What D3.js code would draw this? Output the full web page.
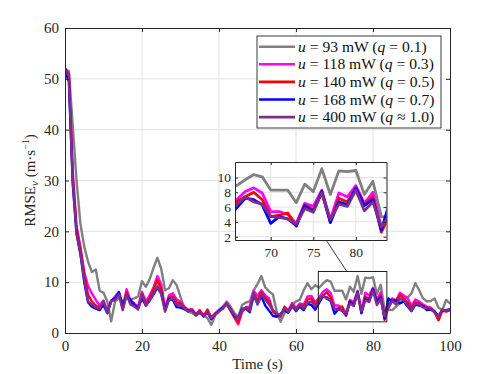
<!DOCTYPE html>
<html>
<head>
<meta charset="utf-8">
<script src="https://cdn.jsdelivr.net/npm/d3@7"></script>
<style>
  body { margin: 0; background: #fff; }
  svg { font-family: "Liberation Serif", "Times New Roman", serif; }
</style>
</head>
<body>
<div id="chart"></div>
<script>
// time axis (s)
const time = d3.range(0, 101);

// RMSE series, one value per second
const rmseQ01 = [52, 51.5, 41, 30, 21.5, 17, 14, 12, 12.5, 8.3, 7.9, 6.2, 2.3, 6.2, 6.8, 6.3, 7.0, 6.6, 6.8, 7.2,
  10.2, 9.1, 10.6, 12.8, 14.8, 12.6, 8.4, 8.8, 10.4, 9.4, 7.1, 4.8, 4.2, 3.9, 3.5, 4.0, 3.6, 2.9, 1.6, 3.5,
  4.6, 5.2, 6.2, 5.2, 3.9, 3.2, 5.5, 6.0, 6.2, 8.4, 9.6, 11.2, 9.0, 8.2, 7.6, 4.2, 2.2, 3.9, 4.5, 5.5,
  6.2, 6.5, 8.4, 9.8, 8.6, 9.4, 8.9, 9.7, 10.4, 10.1, 8.3, 8.3, 8.3, 6.6, 9.1, 8.1, 11.2, 7.7, 10.9, 10.8,
  10.95, 7.7, 9.5, 4.7, 4.6, 4.5, 5.2, 6.0, 6.8, 7.0, 7.8, 9.8, 8.4, 6.8, 6.2, 6.3, 6.8, 5.0, 4.5, 6.5, 5.8];
const rmseQ03 = [52, 51, 32, 21, 17, 12, 9.2, 7.8, 6.5, 5.4, 6.4, 4.3, 6.3, 7.2, 8.1, 4.9, 8.6, 6.4, 5.8, 5.2,
  8.1, 6.2, 7.4, 9.0, 11.2, 9.6, 4.8, 7.4, 7.8, 6.6, 6.2, 5.2, 4.6, 4.7, 3.7, 4.5, 3.4, 4.6, 3.0, 3.9,
  4.5, 4.9, 5.9, 4.4, 3.0, 1.7, 4.2, 5.1, 5.2, 8.3, 7.3, 8.4, 7.4, 6.8, 4.4, 3.7, 3.2, 5.2, 4.4, 5.9,
  4.9, 5.8, 5.6, 7.2, 7.3, 6.0, 7.0, 8.1, 8.6, 7.9, 5.4, 5.4, 5.0, 3.8, 6.5, 6.1, 8.3, 4.3, 7.9, 7.4,
  8.9, 6.5, 8.0, 3.2, 5.4, 6.8, 6.4, 7.9, 7.4, 6.9, 5.3, 6.6, 6.2, 5.6, 5.2, 5.0, 4.3, 2.6, 4.6, 4.3, 4.6];
const rmseQ05 = [52, 51, 31, 20.5, 16.5, 11.5, 7.5, 6.2, 5.4, 4.9, 6.0, 4.2, 6.2, 6.7, 7.8, 4.7, 8.0, 6.0, 5.4, 4.9,
  7.8, 5.8, 6.8, 8.6, 10.4, 8.6, 4.6, 7.0, 7.2, 6.0, 5.8, 5.0, 4.4, 4.6, 3.6, 4.4, 3.3, 4.5, 3.0, 3.8,
  4.4, 4.8, 5.8, 4.4, 3.2, 2.1, 4.3, 5.0, 4.8, 7.8, 6.4, 8.0, 7.0, 6.2, 4.2, 3.6, 3.4, 5.0, 4.3, 5.7,
  4.7, 5.6, 5.2, 6.6, 6.8, 5.6, 6.7, 7.4, 8.0, 7.0, 4.7, 4.9, 5.2, 3.4, 6.3, 5.6, 8.0, 4.0, 7.2, 6.7,
  8.6, 6.3, 7.4, 2.6, 5.0, 6.6, 6.2, 7.5, 6.8, 6.0, 4.8, 6.1, 5.8, 5.3, 5.0, 4.9, 4.1, 2.5, 4.4, 4.2, 4.5];
const rmseQ07 = [51.5, 49.5, 29.5, 19.5, 15.5, 10, 6.0, 5.2, 4.8, 4.5, 5.5, 3.9, 6.4, 6.8, 8.0, 5.4, 7.4, 6.5, 5.6, 4.9,
  6.8, 5.4, 6.4, 7.6, 8.9, 7.8, 4.5, 6.7, 6.5, 5.1, 5.0, 4.7, 4.3, 4.5, 3.5, 4.0, 3.3, 4.0, 2.7, 3.6,
  4.3, 5.0, 5.6, 4.7, 3.3, 3.0, 4.8, 4.8, 4.1, 7.4, 5.8, 7.2, 5.4, 4.4, 3.4, 3.2, 3.8, 4.5, 4.0, 5.3,
  4.3, 5.2, 4.5, 5.8, 5.5, 4.6, 5.9, 7.2, 7.0, 6.3, 3.8, 4.7, 4.4, 3.5, 6.2, 5.4, 8.1, 3.9, 6.7, 6.3,
  8.6, 6.2, 7.0, 2.9, 6.8, 6.2, 6.5, 5.8, 6.2, 5.2, 4.3, 5.6, 5.4, 5.3, 4.5, 4.6, 4.2, 3.4, 4.5, 4.5, 4.7];
const rmseQ10 = [52, 50.5, 30, 19.5, 15.8, 10.5, 6.2, 5.6, 5.0, 4.8, 6.2, 4.0, 6.2, 6.5, 7.6, 4.5, 7.5, 5.6, 5.2, 4.6,
  7.6, 5.4, 6.4, 7.8, 9.2, 7.6, 4.2, 6.4, 6.8, 5.6, 5.4, 4.9, 4.2, 4.5, 3.5, 4.2, 3.2, 4.2, 2.9, 3.6,
  4.2, 4.8, 5.8, 4.6, 3.6, 2.8, 4.6, 5.0, 4.4, 8.0, 5.6, 7.6, 6.6, 5.6, 4.5, 3.8, 3.5, 4.8, 4.2, 5.5,
  4.5, 5.5, 4.8, 6.0, 6.2, 5.2, 6.3, 7.4, 6.7, 6.4, 4.7, 4.6, 4.4, 3.7, 5.8, 5.3, 7.9, 4.3, 6.4, 6.1,
  8.3, 5.5, 6.7, 3.3, 5.0, 6.3, 5.6, 6.8, 6.5, 5.5, 4.4, 5.8, 5.6, 5.0, 4.9, 4.8, 4.0, 3.2, 4.6, 4.4, 4.6];

const powers = ["93", "118", "140", "168", "400"];
const qLabels = ["= 0.1", "= 0.3", "= 0.5", "= 0.7", "\u2248 1.0"];
const colors = ["#808080", "#ff00ff", "#ff0000", "#0000ff", "#7e2f8e"];
const seriesList = [rmseQ01, rmseQ03, rmseQ05, rmseQ07, rmseQ10];

const xTicks = [0, 20, 40, 60, 80, 100];
const yTicks = [0, 10, 20, 30, 40, 50, 60];
const insetXTicks = [70, 75, 80];
const insetYTicks = [2, 4, 6, 8, 10];

const width = 498, height = 374;
const axisColor = "#262626", gridColor = "#e3e3e3";

const x = d3.scaleLinear().domain([0, 100]).range([65, 450]);
const y = d3.scaleLinear().domain([0, 60]).range([333, 28]);

// inset zoom window
const zoomX = [65.8, 83.6], zoomY = [2.2, 12.1];
const xi = d3.scaleLinear().domain(zoomX).range([235, 386.5]);
const yi = d3.scaleLinear().domain([1.55, 12.1]).range([240, 162]);

const svg = d3.select("#chart").append("svg")
    .attr("width", width)
    .attr("height", height);

const defs = svg.append("defs");
defs.append("clipPath").attr("id", "clip-main")
    .append("rect")
    .attr("x", x(0)).attr("y", y(60))
    .attr("width", x(100) - x(0)).attr("height", y(0) - y(60));
defs.append("clipPath").attr("id", "clip-inset")
    .append("rect")
    .attr("x", xi.range()[0]).attr("y", yi.range()[1])
    .attr("width", xi.range()[1] - xi.range()[0])
    .attr("height", yi.range()[0] - yi.range()[1]);

// grid
svg.append("g").selectAll("line").data(xTicks.slice(1, -1)).enter().append("line")
    .attr("x1", d => x(d)).attr("x2", d => x(d))
    .attr("y1", y(0)).attr("y2", y(60))
    .attr("stroke", gridColor).attr("stroke-width", 1);
svg.append("g").selectAll("line").data(yTicks.slice(1, -1)).enter().append("line")
    .attr("x1", x(0)).attr("x2", x(100))
    .attr("y1", d => y(d)).attr("y2", d => y(d))
    .attr("stroke", gridColor).attr("stroke-width", 1);

const line = (xs, ys) => d3.line()
    .x((d, i) => xs(time[i]))
    .y(d => ys(d));

svg.append("g").attr("clip-path", "url(#clip-main)")
    .selectAll("path").data(seriesList).enter().append("path")
    .attr("d", line(x, y))
    .attr("fill", "none")
    .attr("stroke", (d, i) => colors[i])
    .attr("stroke-width", 2.4)
    .attr("stroke-linejoin", "round");

// axes (box with inward ticks)
const fontSize = 15;
const gx = svg.append("g").attr("transform", `translate(0,${y(0)})`)
    .call(d3.axisBottom(x).tickValues(xTicks).tickSizeInner(-4).tickSizeOuter(0).tickPadding(7));
const gy = svg.append("g").attr("transform", `translate(${x(0)},0)`)
    .call(d3.axisLeft(y).tickValues(yTicks).tickSizeInner(-4).tickSizeOuter(0).tickPadding(6));
const gx2 = svg.append("g").attr("transform", `translate(0,${y(60)})`)
    .call(d3.axisTop(x).tickValues(xTicks).tickSizeInner(-4).tickSizeOuter(0).tickFormat(""));
const gy2 = svg.append("g").attr("transform", `translate(${x(100)},0)`)
    .call(d3.axisRight(y).tickValues(yTicks).tickSizeInner(-4).tickSizeOuter(0).tickFormat(""));
[gx, gy, gx2, gy2].forEach(g => {
  g.selectAll("path, line").attr("stroke", axisColor);
  g.selectAll("text").attr("fill", axisColor)
      .style("font-family", '"Liberation Serif", serif').style("font-size", fontSize + "px");
});

svg.append("text")
    .attr("x", (x(0) + x(100)) / 2).attr("y", 369)
    .attr("text-anchor", "middle").attr("fill", axisColor)
    .style("font-size", fontSize + "px")
    .text("Time (s)");

const yl = svg.append("text")
    .attr("transform", `translate(35,${(y(0) + y(60)) / 2}) rotate(-90)`)
    .attr("text-anchor", "middle").attr("fill", axisColor)
    .style("font-size", fontSize + "px");
yl.append("tspan").text("RMSE");
yl.append("tspan").attr("font-style", "italic").attr("font-size", "11px").attr("dy", 3).text("v");
yl.append("tspan").attr("dy", -3).text(" (m\u00b7s");
yl.append("tspan").attr("font-size", "10px").attr("dy", -6).text("\u22121");
yl.append("tspan").attr("dy", 6).text(")");

// zoom rectangle + connector
svg.append("rect")
    .attr("x", x(zoomX[0])).attr("y", y(zoomY[1]))
    .attr("width", x(zoomX[1]) - x(zoomX[0]))
    .attr("height", y(zoomY[0]) - y(zoomY[1]))
    .attr("fill", "none").attr("stroke", "#222").attr("stroke-width", 1);
svg.append("line")
    .attr("x1", x(73.2)).attr("y1", y(zoomY[1]))
    .attr("x2", xi(76.5)).attr("y2", yi.range()[0])
    .attr("stroke", "#222").attr("stroke-width", 0.9);

// inset
const inset = svg.append("g");
inset.append("rect")
    .attr("x", xi.range()[0]).attr("y", yi.range()[1])
    .attr("width", xi.range()[1] - xi.range()[0])
    .attr("height", yi.range()[0] - yi.range()[1])
    .attr("fill", "#fff");
inset.append("g").selectAll("line").data(insetXTicks).enter().append("line")
    .attr("x1", d => xi(d)).attr("x2", d => xi(d))
    .attr("y1", yi.range()[0]).attr("y2", yi.range()[1])
    .attr("stroke", gridColor);
inset.append("g").selectAll("line").data(insetYTicks).enter().append("line")
    .attr("x1", xi.range()[0]).attr("x2", xi.range()[1])
    .attr("y1", d => yi(d)).attr("y2", d => yi(d))
    .attr("stroke", gridColor);
inset.append("g").attr("clip-path", "url(#clip-inset)")
    .selectAll("path").data(seriesList).enter().append("path")
    .attr("d", line(xi, yi))
    .attr("fill", "none")
    .attr("stroke", (d, i) => colors[i])
    .attr("stroke-width", 2.8)
    .attr("stroke-linejoin", "round");

const insetFont = 13.5;
const ix = inset.append("g").attr("transform", `translate(0,${yi.range()[0]})`)
    .call(d3.axisBottom(xi).tickValues(insetXTicks).tickSizeInner(-3).tickSizeOuter(0).tickPadding(7));
const iy = inset.append("g").attr("transform", `translate(${xi.range()[0]},0)`)
    .call(d3.axisLeft(yi).tickValues(insetYTicks).tickSizeInner(-3).tickSizeOuter(0).tickPadding(4));
const ix2 = inset.append("g").attr("transform", `translate(0,${yi.range()[1]})`)
    .call(d3.axisTop(xi).tickValues(insetXTicks).tickSizeInner(-3).tickSizeOuter(0).tickFormat(""));
const iy2 = inset.append("g").attr("transform", `translate(${xi.range()[1]},0)`)
    .call(d3.axisRight(yi).tickValues(insetYTicks).tickSizeInner(-3).tickSizeOuter(0).tickFormat(""));
[ix, iy, ix2, iy2].forEach(g => {
  g.selectAll("path, line").attr("stroke", axisColor);
  g.selectAll("text").attr("fill", axisColor)
      .style("font-family", '"Liberation Serif", serif').style("font-size", insetFont + "px");
});

// legend
const legend = svg.append("g");
legend.append("rect")
    .attr("x", 257).attr("y", 36).attr("width", 184).attr("height", 92)
    .attr("fill", "#fff").attr("stroke", axisColor).attr("stroke-width", 0.9);
const rows = legend.selectAll("g.row").data(powers).enter().append("g")
    .attr("class", "row")
    .attr("transform", (d, i) => `translate(259,${46.7 + i * 17.6})`);
rows.append("line")
    .attr("x1", 0).attr("x2", 36)
    .attr("stroke", (d, i) => colors[i]).attr("stroke-width", 2.6);
const lt = rows.append("text").attr("x", 39).attr("y", 5)
    .attr("fill", "#111").style("font-size", "15.6px");
lt.append("tspan").attr("font-style", "italic").text("u");
lt.append("tspan").text(d => ` = ${d} mW (`);
lt.append("tspan").attr("font-style", "italic").text("q");
lt.append("tspan").text((d, i) => ` ${qLabels[i]})`);
</script>
</body>
</html>
